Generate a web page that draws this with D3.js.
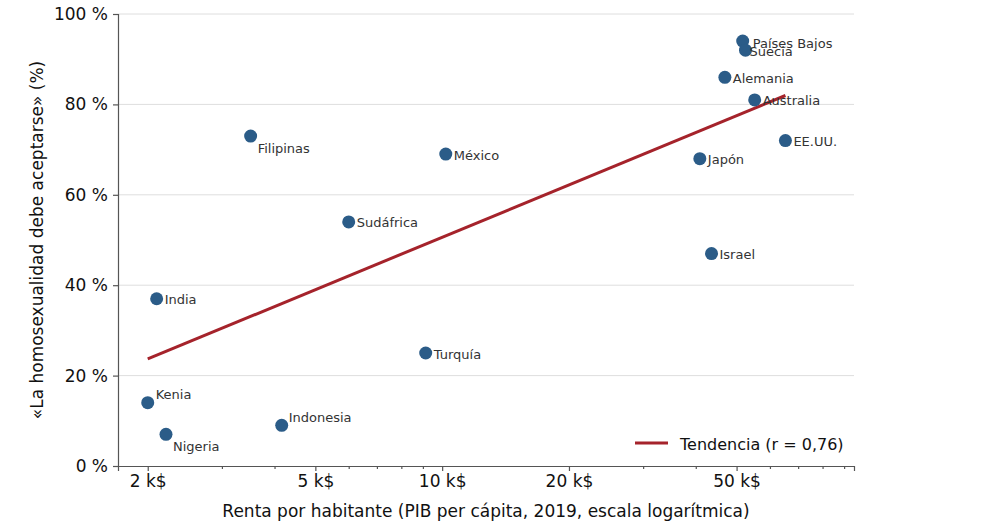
<!DOCTYPE html>
<html><head><meta charset="utf-8">
<script src="https://cdn.jsdelivr.net/npm/d3@7"></script>
<style>body{margin:0;background:#fff}svg{display:block}text{font-family:"DejaVu Sans",sans-serif}</style>
</head><body><svg id="c" width="1004" height="530"></svg>
<script>
const countries = ["Países Bajos","Suecia","Alemania","Australia","EE.UU.","Japón","Israel","México","Filipinas","Sudáfrica","India","Turquía","Kenia","Nigeria","Indonesia"];
const gdp = [51700,52500,46900,55200,65300,40900,43600,10200,3510,6000,2100,9140,2000,2210,4160];
const accept = [94,92,86,81,72,68,47,69,73,54,37,25,14,7,9];
const xTickValues = [2000,5000,10000,20000,50000];
const xTickLabels = ["2 k$","5 k$","10 k$","20 k$","50 k$"];
const yTickValues = [0,20,40,60,80,100];
const yTickLabels = ["0 %","20 %","40 %","60 %","80 %","100 %"];
const legendLabel = "Tendencia (r = 0,76)";

// label offsets (styling)
const labelOffset = {"Países Bajos":[10,2],"Suecia":[4,1],"Filipinas":[7,12],"Kenia":[8,-8],"Nigeria":[7,12],"Indonesia":[7,-8]};

const W=1004,H=530,m={l:118,r:150,t:14,b:64};
const svg=d3.select("#c");
const x=d3.scaleLog().domain([1700,95000]).range([m.l,W-m.r]);
const y=d3.scaleLinear().domain([0,100]).range([H-m.b,m.t]);

// grid
svg.append("g").selectAll("line").data(yTickValues.filter(v=>v>0)).join("line")
 .attr("x1",m.l).attr("x2",W-m.r).attr("y1",d=>y(d)).attr("y2",d=>y(d))
 .attr("stroke","#dedede").attr("stroke-width",1);

// axes
const minor=[];
[1000,10000].forEach(b=>{for(let k=1;k<10;k++){const v=b*k;if(v>=1700&&v<=95000&&!xTickValues.includes(v))minor.push(v);}});
svg.append("g").attr("transform",`translate(0,${H-m.b})`)
 .call(d3.axisBottom(x).tickValues(xTickValues).tickFormat((d,i)=>xTickLabels[i]).tickSize(5).tickPadding(4));
svg.append("g").attr("transform",`translate(0,${H-m.b})`)
 .call(d3.axisBottom(x).tickValues(minor).tickFormat("").tickSize(3)).select(".domain").remove();
svg.append("g").attr("transform",`translate(${m.l},0)`)
 .call(d3.axisLeft(y).tickValues(yTickValues).tickFormat((d,i)=>yTickLabels[i]).tickSize(5).tickPadding(5));
svg.selectAll(".tick text").attr("font-size",17).attr("fill","#111").attr("font-family","DejaVu Sans");
svg.selectAll(".domain,.tick line").attr("stroke","#555").attr("stroke-width",1.2);

// trend line (least squares on log10 gdp)
const lx=gdp.map(Math.log10), mx=d3.mean(lx), my=d3.mean(accept);
let sxy=0,sxx=0; lx.forEach((v,i)=>{sxy+=(v-mx)*(accept[i]-my);sxx+=(v-mx)**2;});
const slope=sxy/sxx, icpt=my-slope*mx;
const [g0,g1]=d3.extent(gdp);
svg.append("line").attr("x1",x(g0)).attr("x2",x(g1))
 .attr("y1",y(icpt+slope*Math.log10(g0))).attr("y2",y(icpt+slope*Math.log10(g1)))
 .attr("stroke","#a5232b").attr("stroke-width",3);

// points
const pts=countries.map((c,i)=>({c,g:gdp[i],a:accept[i]}));
svg.append("g").selectAll("circle").data(pts).join("circle")
 .attr("cx",d=>x(d.g)).attr("cy",d=>y(d.a)).attr("r",6.5).attr("fill","#2b5c88");
svg.append("g").selectAll("text").data(pts).join("text")
 .attr("x",d=>x(d.g)+(labelOffset[d.c]?labelOffset[d.c][0]:8))
 .attr("y",d=>y(d.a)+(labelOffset[d.c]?labelOffset[d.c][1]:1))
 .attr("dy","0.35em").attr("font-size",13).attr("fill","#333").text(d=>d.c);

// axis labels
svg.append("text").attr("x",(m.l+W-m.r)/2).attr("y",517).attr("text-anchor","middle")
 .attr("font-size",17).attr("fill","#111").text("Renta por habitante (PIB per cápita, 2019, escala logarítmica)");
svg.append("text").attr("transform",`translate(43,${(m.t+H-m.b)/2}) rotate(-90)`).attr("text-anchor","middle")
 .attr("font-size",17).attr("fill","#111").text("«La homosexualidad debe aceptarse» (%)");

// legend
svg.append("line").attr("x1",635).attr("x2",668).attr("y1",443).attr("y2",443).attr("stroke","#a5232b").attr("stroke-width",3);
svg.append("text").attr("x",680).attr("y",444).attr("dy","0.35em").attr("font-size",16).attr("fill","#111").text(legendLabel);
</script></body></html>
